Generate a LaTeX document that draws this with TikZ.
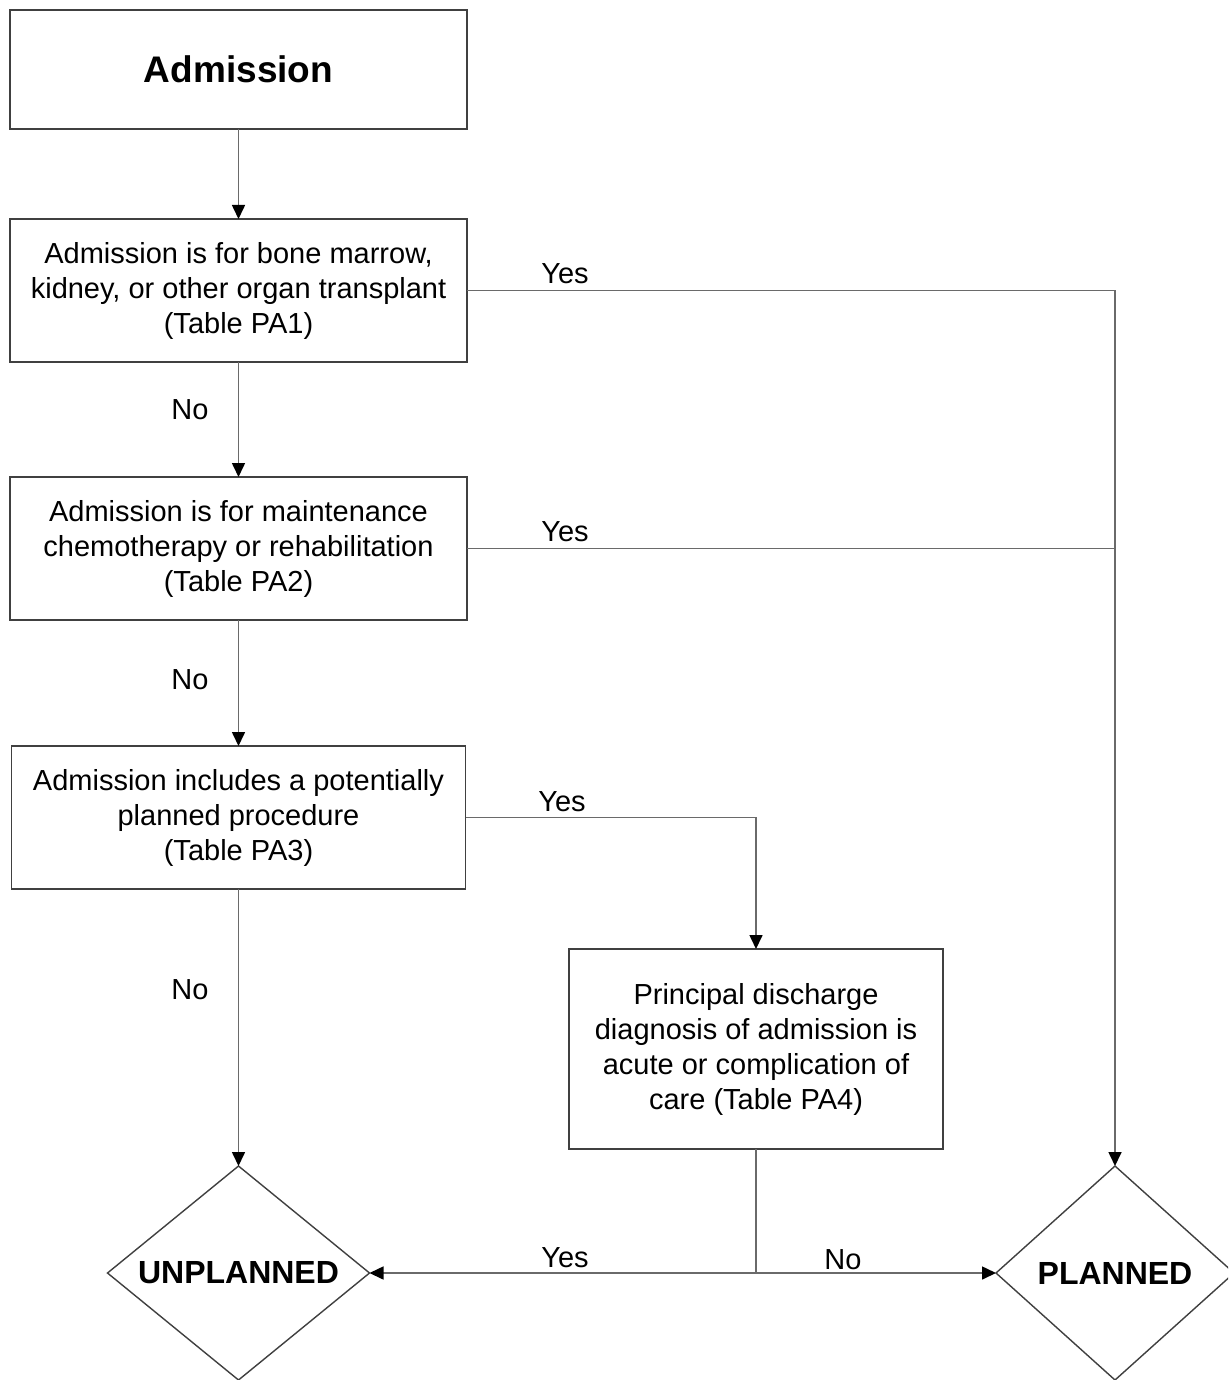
\documentclass[tikz,border=0pt]{standalone}
\usepackage{fontspec}
\setmainfont{Liberation Sans}
\usetikzlibrary{shapes.geometric,arrows.meta}
\definecolor{boxc}{HTML}{404040}
\definecolor{linec}{HTML}{6A6A6A}
\begin{document}
\begin{tikzpicture}[x=1pt,y=-1pt,
  box/.style={draw=boxc, line width=1.8pt, fill=white, inner sep=0pt, outer sep=0pt,
    align=center, font=\fontsize{29}{35}\selectfont},
  endpt/.style={shape=diamond, draw=boxc, line width=1.4pt, fill=white, inner sep=0pt,
    outer sep=0pt, font=\fontsize{32}{38}\selectfont\bfseries},
  wire/.style={draw=linec, line width=1.6pt},
  conn/.style={wire, -{Triangle[length=14pt,width=13pt,color=black]}},
  lbl/.style={font=\fontsize{29}{35}\selectfont, inner sep=0pt}]
\clip (0,0) rectangle (1228,1380);
\fill[white] (0,0) rectangle (1228,1380);

\node[box, minimum width=457pt, minimum height=119pt, font=\fontsize{37}{44}\selectfont\bfseries]
  (adm) at (238.5,69.5) {Admission};
\node[box, minimum width=457pt, minimum height=143pt] (b1) at (238.5,290.5)
  {Admission is for bone marrow,\\kidney, or other organ transplant\\(Table PA1)};
\node[box, minimum width=457pt, minimum height=143pt] (b2) at (238.5,548.5)
  {Admission is for maintenance\\chemotherapy or rehabilitation\\(Table PA2)};
\node[box, minimum width=454pt, minimum height=143pt] (b3) at (238.5,817.5)
  {Admission includes a potentially\\planned procedure\\(Table PA3)};
\node[box, minimum width=374pt, minimum height=200pt] (b4) at (756,1049)
  {Principal discharge\\diagnosis of admission is\\acute or complication of\\care (Table PA4)};
\node[endpt, shape aspect=1.22, minimum width=262pt, minimum height=214pt] (unp) at (238.5,1273) {UNPLANNED};
\node[endpt, shape aspect=1.1, minimum width=238pt, minimum height=214pt] (pln) at (1115,1273) {PLANNED};

\draw[conn] (adm.south) -- (b1.north);
\draw[conn] (b1.south) -- (b2.north);
\draw[conn] (b2.south) -- (b3.north);
\draw[conn] (b3.south) -- (unp.north);
\draw[conn] (b1.east) -| (pln.north);
\draw[wire] (b2.east) -- (b2.east -| pln.north);
\draw[conn] (b3.east) -| (b4.north);
\coordinate (j) at (b4.south |- unp.east);
\draw[wire] (b4.south) -- (j);
\draw[conn] (j) -- (unp.east);
\draw[conn] (j) -- (pln.west);

\node[lbl] (n1) at (190,410) {No};
\node[lbl] (n2) at (190,680) {No};
\node[lbl] (n3) at (190,990) {No};
\node[lbl] (y1) at (565,274) {Yes};
\node[lbl] (y2) at (565,532) {Yes};
\node[lbl] (y3) at (562,802) {Yes};
\node[lbl] (y4) at (565,1258) {Yes};
\node[lbl] (n4) at (843,1260) {No};
\end{tikzpicture}
\end{document}
